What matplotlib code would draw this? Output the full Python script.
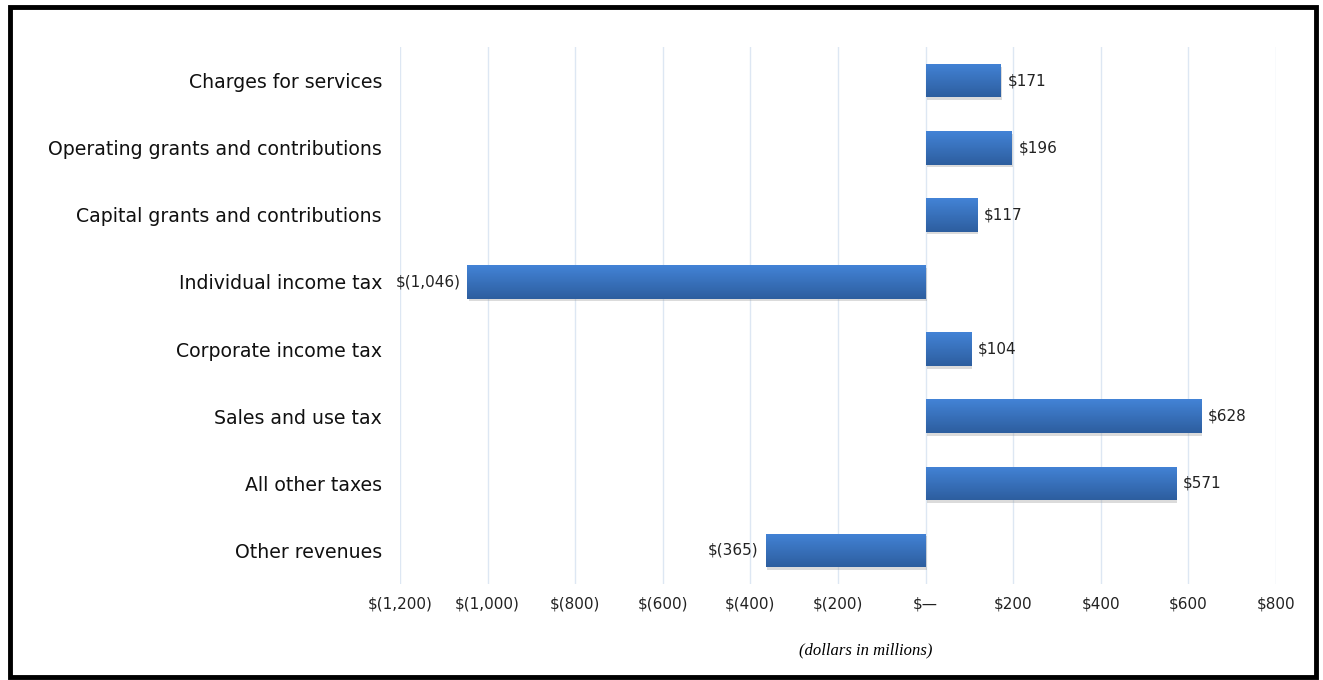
import numpy as np
import matplotlib
matplotlib.use('Agg')
import matplotlib.pyplot as plt
from matplotlib.patches import Rectangle
from matplotlib.colors import LinearSegmentedColormap

categories = ['Charges for services', 'Operating grants and contributions',
              'Capital grants and contributions', 'Individual income tax',
              'Corporate income tax', 'Sales and use tax', 'All other taxes',
              'Other revenues']
values = [171, 196, 117, -1046, 104, 628, 571, -365]
ticks = [-1200, -1000, -800, -600, -400, -200, 0, 200, 400, 600, 800]

plt.rcParams['font.family'] = ['DejaVu Sans']


def money(v):
    if v == 0:
        return '$\u2014'
    if v < 0:
        return '$({:,})'.format(-v)
    return '${:,}'.format(v)


fig = plt.figure(figsize=(13.23, 6.8), dpi=100)
ax = fig.add_axes([0.3023, 0.1411, 0.6622, 0.7897])

y = np.arange(len(categories))
bh = 0.5
grad = LinearSegmentedColormap.from_list('g', ['#4383d6', '#2d5e9f'])
g = np.linspace(0, 1, 64).reshape(-1, 1)

bars = ax.barh(y, values, height=bh, color='#3a72bd', zorder=3)
for b, v in zip(bars, values):
    x0 = min(0, v)
    w = abs(v)
    # soft shadow
    ax.add_patch(Rectangle((x0 + 3, b.get_y() + 0.04), w, bh,
                           color='#999999', alpha=0.35, zorder=2, lw=0))
    im = ax.imshow(g, cmap=grad, aspect='auto', zorder=4,
                   extent=[x0, x0 + w, b.get_y() + bh, b.get_y()])
    im.set_clip_path(b)

for yi, v in zip(y, values):
    if v >= 0:
        ax.text(v + 16, yi, money(v), va='center', ha='left', fontsize=11,
                color='#222222', zorder=5)
    else:
        ax.text(v - 16, yi, money(v), va='center', ha='right', fontsize=11,
                color='#222222', zorder=5)

ax.set_xlim(-1200, 800)
ax.set_ylim(len(categories) - 0.5, -0.5)
ax.set_xticks(ticks)
ax.set_xticklabels([money(t) for t in ticks], fontsize=11, color='#222222')
ax.set_yticks(y)
ax.set_yticklabels(categories, fontsize=13.6, color='#111111')
ax.tick_params(axis='both', length=0)
ax.tick_params(axis='x', pad=9)
ax.tick_params(axis='y', pad=13)
ax.xaxis.grid(True, color='#dde7f3', lw=1, zorder=0)
ax.set_axisbelow(True)
for s in ax.spines.values():
    s.set_visible(False)

fig.text(0.654, 0.044, '(dollars in millions)', fontsize=12, style='italic',
         family='Liberation Serif', ha='center', va='center')

fig.patches.append(Rectangle((0.0075, 0.004), 0.987, 0.986, transform=fig.transFigure,
                             fill=False, ec='black', lw=3.5, zorder=10))

fig.savefig('out.png', dpi=100)
